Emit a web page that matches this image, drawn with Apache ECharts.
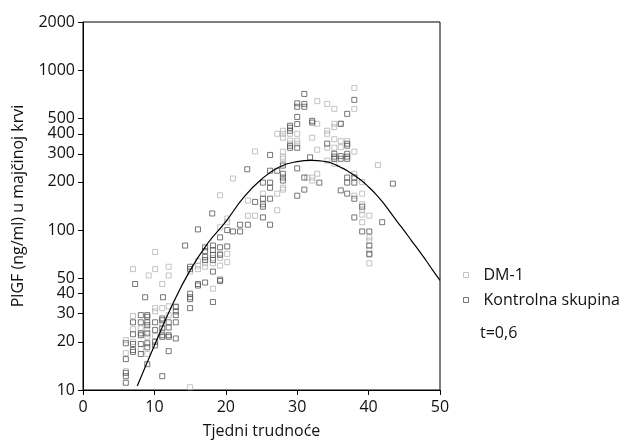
<!DOCTYPE html>
<html><head><meta charset="utf-8">
<script src="https://cdn.jsdelivr.net/npm/echarts@6/dist/echarts.min.js"></script>
<style>html,body{margin:0;padding:0;background:#fff}#c{width:621px;height:441px}</style>
</head><body><div id="c"></div>
<script>
const yTicks = [10,20,30,40,50,100,200,300,400,500,1000,2000];
const xTicks = [0,10,20,30,40,50];
const seriesNames = ['DM-1','Kontrolna skupina'];
const dm1 = [
[6,20.5],[6,17],[6,13.1],
[7,57],[7,29],[7,24],[7,20],
[8.1,24.3],[8.1,18],
[9.2,52],[9,24],[9,21.5],[9,16.8],
[10.1,73],[10.1,57],[10.1,32.5],[10.1,31],[10.1,21.7],
[11.1,46],[11.1,32.5],[11.1,26],[11.1,23],
[12,59],[12,52],[12,33.4],[12,29.4],
[13,33.4],
[15,55],[15,10.4],
[16.1,64],[16.1,60],[16.1,57],
[17.1,62],[17.1,59],
[18.2,67],[18.2,62],[18.2,43],
[19.2,165],[19.2,104],[19.2,71],[19.2,67],[19.2,60],
[20.2,118],[20.2,112],[20.2,71],[20.2,63],
[21,210],
[23.1,153],[23.1,123],
[24.1,310],[24.1,123],
[25.2,169],
[27.2,133],[27.2,169],[27.2,400],
[28,418],[28,400],[28,378],[28,309],[28,288],[28,279],[28,260],[28,184],[28,179],
[29,400],[29,362],[29,347],
[30,362],[30,347],[30,400],
[31.4,213],
[32.1,378],[32.1,213],[32.1,204],
[32.8,640],[32.8,462],[32.8,318],[32.8,225],
[34.2,615],[34.2,418],[34.2,400],[34.2,327],[34.2,272],
[35.2,573],[35.2,462],[35.2,440],[35.2,370],[35.2,327],[35.2,260],
[36.1,462],[36.1,360],[36.1,330],
[37,360],
[38,774],[38,573],[38,309],[38,225],[38,164],
[39.1,200],[39.1,169],[39.1,145],[39.1,133],[39.1,125],[39.1,112],
[40.1,123],[40.1,90],[40.1,86],[40.1,75],[40.1,70],[40.1,62],
[41.3,255]
];
const kontrola = [
[6,19.6],[6,15.6],[6,12.8],[6,12.2],[6,11.1],
[7.3,46],[7,26.5],[7,22.3],[7,19.4],[7,17.8],[7,17.3],
[8.1,29.4],[8.1,26.5],[8.1,22.6],[8.1,22],[8.1,19.4],[8.1,16.8],
[8.7,38],[9,29.4],[9,28.7],[9,26.5],[9,25.4],[9,22.6],[9,19.6],[9,18.5],[9,14.5],
[10.1,26.5],[10.1,23.7],[10.1,20],[10.1,19],
[11.2,38],[11.1,28],[11.1,27.3],[11.1,24.3],[11.1,22],[11.1,21.5],[11.1,12.2],
[12,26.5],[12,24.6],[12,22],[12,21.5],[12,17.5],
[13,33],[13,31],[13,29.4],[13,26.5],[13,21],
[14.3,80],
[15,59],[15,57],[15,40],[15,38],[15,37],[15,32.5],
[16.1,101],[16.1,46],[16.1,45],
[17.1,78],[17.1,74],[17.1,68],[17.1,65],[17.1,47],
[18.1,127],[18.2,80],[18.2,75],[18.2,70],[18.2,65],[18.2,55],[18.2,35.5],
[19.2,90],[19.2,78],[19.2,70],[19.2,49],[19.2,48],
[20.2,100],[20.2,79],
[21,98],[22,98],[22,108],[23.1,108],[23,240],
[24.1,150],[25.2,145],[25.2,120],[25.2,157],[25.2,140],[25.2,198],
[26.2,295],[26.2,235],[26.2,198],[26.2,184],[26.2,157],[26.2,108],
[27.2,235],
[28,253],[28,225],[28,213],[28,204],
[29,449],[29,436],[29,418],[29,337],[29,327],
[30,620],[30,590],[30,510],[30,460],[30,327],[30,243],[30,164],
[31,710],[31,615],[31,590],[31,213],[31,179],
[31.8,285],[32.1,482],[32.1,470],
[33.1,198],
[34.2,347],
[35.2,288],[35.2,279],[35.2,300],
[36.1,462],[36.1,290],[36.1,279],[36.1,177],
[37,533],[37,347],[37,337],[37,300],[37,288],[37,279],[37,213],[37,198],[37,169],
[38,652],[38,213],[38,198],[38,157],[38,120],
[39.1,140],[39.1,98],
[40.1,98],[40.1,80],[40.1,71],
[41.9,112],
[43.4,195]
];
const fitCurve = [
[7.6,10.6],[10,19],[12.5,34],[15,56],[17.5,83],[20,113],[22.5,160],[25,208],
[27.5,248],[30,268],[32,273],[34,268],[35,260],[36,248],[37,235],[38,220],[39,204],
[40,186],[41,168],[42,149],[43,130],[44,113],[45,99],[46,86],[47,75],
[48,65],[49,56],[50,48.5]
];
const noteText = 't=0,6';
const xName = 'Tjedni trudnoće';
const yName = 'PlGF (ng/ml) u majčinoj krvi';

const FONT = 'Open Sans';
const light = '#b4b4b4', dark = '#555555';
const chart = echarts.init(document.getElementById('c'));
chart.setOption({
  animation: false,
  textStyle: {fontFamily: FONT},
  grid: {left: 83, top: 22, right: 181, bottom: 51, show: true, borderColor: '#000', borderWidth: 1,
    backgroundColor: 'transparent', containLabel: false, outerBoundsMode: 'none'},
  legend: {
    orient: 'vertical', left: 458, top: 262, itemWidth: 5, itemHeight: 5, itemGap: 9,
    textStyle: {fontFamily: FONT, fontSize: 16, color: '#111', padding: [0,0,0,10]},
    data: [
      {name: seriesNames[0], icon: 'rect', itemStyle: {color: 'rgba(0,0,0,0)', borderColor: light, borderWidth: 1}},
      {name: seriesNames[1], icon: 'rect', itemStyle: {color: 'rgba(0,0,0,0)', borderColor: dark, borderWidth: 1}}
    ]
  },
  xAxis: {
    type: 'value', min: 0, max: 50, interval: 10,
    name: xName, nameLocation: 'middle', nameGap: 33,
    nameTextStyle: {fontFamily: FONT, fontSize: 16, color: '#111'},
    axisLine: {lineStyle: {color: '#000', width: 1}},
    axisTick: {show: true, length: 5, lineStyle: {color: '#000'}},
    axisLabel: {fontFamily: FONT, fontSize: 16, color: '#111', margin: 9,
      customValues: xTicks},
    splitLine: {show: false}
  },
  yAxis: {
    type: 'log', logBase: 10, min: 10, max: 2000,
    name: yName, nameLocation: 'middle', nameGap: 57, nameRotate: 90,
    nameTextStyle: {fontFamily: FONT, fontSize: 16, color: '#111'},
    axisLine: {show: true, lineStyle: {color: '#000', width: 1}},
    axisTick: {show: true, length: 5, lineStyle: {color: '#000'}, customValues: yTicks},
    axisLabel: {fontFamily: FONT, fontSize: 16, color: '#111', margin: 8, customValues: yTicks,
      formatter: function (v) { return String(Math.round(v)); }},
    splitLine: {show: false},
    minorTick: {show: false}
  },
  series: [
    {name: seriesNames[0], type: 'scatter', symbol: 'rect', symbolSize: 5, data: dm1,
      itemStyle: {color: 'rgba(0,0,0,0)', borderColor: light, borderWidth: 1}, z: 2},
    {name: seriesNames[1], type: 'scatter', symbol: 'rect', symbolSize: 5, data: kontrola,
      itemStyle: {color: 'rgba(0,0,0,0)', borderColor: dark, borderWidth: 1}, z: 3},
    {name: 'fit', type: 'line', data: fitCurve, smooth: true, showSymbol: false, symbol: 'none',
      lineStyle: {color: '#000', width: 1.2}, z: 4, clip: true}
  ],
  graphic: [
    {type: 'text', left: 480, top: 325, style: {text: noteText, font: '16px "Open Sans"', fill: '#111'}}
  ]
});
</script></body></html>
